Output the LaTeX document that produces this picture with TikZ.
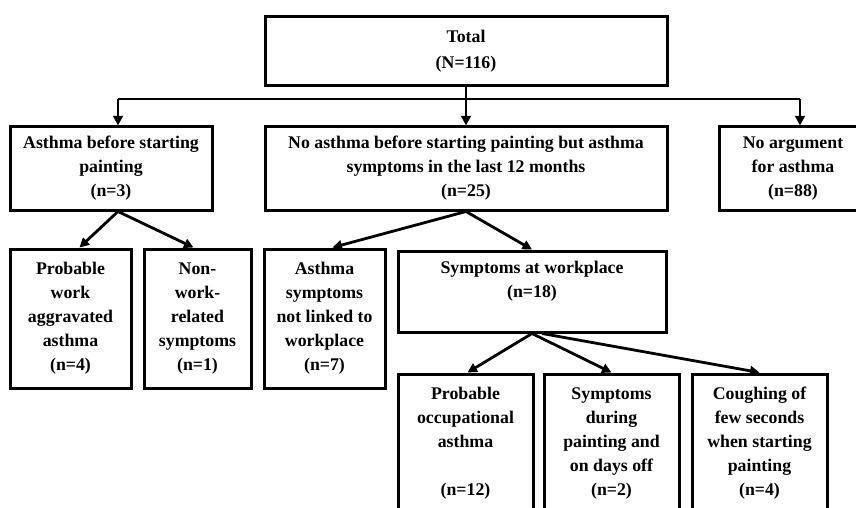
\documentclass[tikz,border=0pt]{standalone}
\usepackage{fontspec}
\setmainfont{Liberation Serif}
\usetikzlibrary{arrows.meta,calc}
\newcommand{\cardfont}{\fontsize{17.8}{24}\selectfont\bfseries}
\tikzset{
 every node/.append style={font=\cardfont,align=center},
 card/.style={draw,line width=3pt,inner sep=0pt},
 flow/.style={-{Triangle[length=9.5pt,width=9.5pt]},line width=2.8pt},
 route/.style={line width=2.8pt},
}
\begin{document}
\begin{tikzpicture}[x=1pt,y=-1pt]

\useasboundingbox (0,0) rectangle (856,508);
\node[card,minimum width=402pt,minimum height=69pt] (total) at (466,51.5) {Total\\[2pt](N=116)};
\coordinate (bL) at (118,99);
\coordinate (bR) at (800,99);
\node[card,minimum width=202pt,minimum height=83pt] (before) at (111,168.5) {Asthma before starting\\painting\\(n=3)};
\node[card,minimum width=402pt,minimum height=83pt] (middle) at (466,168.5) {No asthma before starting painting but asthma\\symptoms in the last 12 months\\(n=25)};
\node[card,minimum width=148pt,minimum height=83pt] (noarg) at (793,168.5) {No argument\\for asthma\\(n=88)};
\draw[route] (bL) -- (bR);
\draw[flow] (total) -- (middle);
\draw[flow] (bL) -- (bL |- before.north);
\draw[flow] (bR) -- (bR |- noarg.north);
\node[card,minimum width=121pt,minimum height=139pt] (pwa) at (70.5,318.5) {Probable\\work\\aggravated\\asthma\\(n=4)};
\node[card,minimum width=107pt,minimum height=139pt] (nonwork) at (197.5,318.5) {Non-\\work-\\related\\symptoms\\(n=1)};
\node[card,minimum width=121pt,minimum height=139pt] (notlinked) at (324.5,318.5) {Asthma\\symptoms\\not linked to\\workplace\\(n=7)};
\node[card,minimum width=268pt,minimum height=81pt] (atwork) at (532,291.5) {Symptoms at workplace\\(n=18)\\~};
\draw[flow] (bL |- before.south) -- ($(pwa.north)+(9,0)$);
\draw[flow] (bL |- before.south) -- ($(nonwork.north)+(-4,0)$);
\draw[flow] (middle.south) -- ($(notlinked.north)+(8,0)$);
\draw[flow] (middle.south) -- (atwork.north);
\node[card,minimum width=135pt,minimum height=138pt] (occ) at (465.5,443) {Probable\\occupational\\asthma\\~\\(n=12)};
\node[card,minimum width=135pt,minimum height=138pt] (during) at (611.5,443) {Symptoms\\during\\painting and\\on days off\\(n=2)};
\node[card,minimum width=135pt,minimum height=138pt] (cough) at (759.5,443) {Coughing of\\few seconds\\when starting\\painting\\(n=4)};
\draw[flow] (atwork.south) -- ($(occ.north)+(2,0)$);
\draw[flow] (atwork.south) -- (during.north);
\draw[flow] ($(atwork.south)+(10,0)$) -- (cough.north);

\end{tikzpicture}
\end{document}
